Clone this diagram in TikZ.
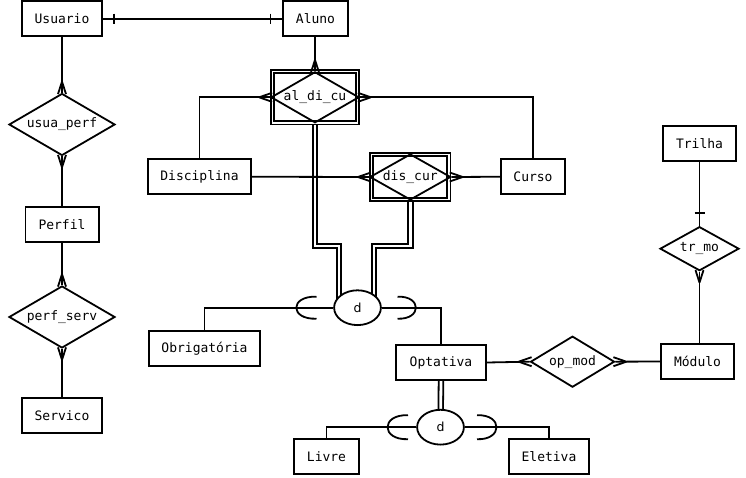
\documentclass[tikz,border=0pt]{standalone}
\usepackage{fontspec}
\setmonofont{DejaVu Sans Mono}
\newfontfamily\dfont{DejaVu Sans}
\usetikzlibrary{shapes.geometric,calc}
\pgfdeclarelayer{bg}
\pgfsetlayers{bg,main}
\newcommand\crowfoot[4]{\draw[conn] ($(#1)+(#2)$) -- ($(#1)+(#3)$) ($(#1)+(#2)$) -- ($(#1)+(#4)$);}
\begin{document}
\begin{tikzpicture}[x=1pt,y=-1pt,
  lw/.style={line width=1.8pt},
  ent/.style={draw, lw, rectangle, minimum height=35.3pt, inner sep=0pt, font=\ttfamily\fontsize{13}{15}\selectfont},
  rel/.style={draw, lw, diamond, inner sep=0pt, font=\ttfamily\fontsize{13}{15}\selectfont},
  dsk/.style={draw, lw, ellipse, fill=white, minimum width=46.8pt, minimum height=34.8pt, inner sep=0pt, font=\dfont\fontsize{12.5}{14}\selectfont},
  conn/.style={lw},
  dbl/.style={line width=1.8pt, double, double distance=2.8pt},
  wbox/.style={draw, line width=1.7pt, double, double distance=1.5pt, inner sep=0pt},
]
\useasboundingbox (0,0) rectangle (746,478);
% entities
\node[ent, minimum width=80.2pt] (usu) at (62,18.75) {Usuario};
\node[ent, minimum width=65.2pt] (alu) at (315.5,18.75) {Aluno};
\node[ent, minimum width=73.2pt] (per) at (62,224.5) {Perfil};
\node[ent, minimum width=80.2pt] (ser) at (62,415.5) {Servico};
\node[ent, minimum width=111.2pt] (obr) at (204.5,348.5) {Obrigatória};
\node[ent, minimum width=103.2pt] (dsc) at (199.5,176.75) {Disciplina};
\node[ent, minimum width=64.2pt] (cur) at (533,176.75) {Curso};
\node[ent, minimum width=90.2pt] (opt) at (441,362.5) {Optativa};
\node[ent, minimum width=73.2pt] (mod) at (697.5,361.5) {Módulo};
\node[ent, minimum width=73.2pt] (tri) at (699.5,143.5) {Trilha};
\node[ent, minimum width=65.2pt] (liv) at (326.5,456.5) {Livre};
\node[ent, minimum width=80.2pt] (ele) at (549,456.5) {Eletiva};
% relationships
\node[rel, aspect=1.71, minimum width=106pt, minimum height=62pt] (up) at (62,124.5) {usua\_perf};
\node[rel, aspect=1.71, minimum width=106pt, minimum height=62pt] (ps) at (62,317) {perf\_serv};
\node[wbox, minimum width=85.2pt, minimum height=51.2pt] (aldb) at (315,97.3) {};
\node[rel, aspect=1.72, minimum width=88pt, minimum height=51pt] (ald) at (315,97.3) {al\_di\_cu};
\node[wbox, minimum width=77.2pt, minimum height=45.2pt] (disb) at (410.3,177) {};
\node[rel, aspect=1.76, minimum width=81pt, minimum height=46pt] (dis) at (410.3,177) {dis\_cur};
\node[rel, aspect=1.65, minimum width=84pt, minimum height=51pt] (om) at (572.5,361.7) {op\_mod};
\node[rel, aspect=1.8, minimum width=79pt, minimum height=44pt] (trm) at (699.5,248.7) {tr\_mo};
% disjoint circles
\node[dsk] (d1) at (357.5,307.7) {d};
\node[dsk] (d2) at (440.5,427.2) {d};
\coordinate (b1) at (339,246);
\coordinate (b2) at (374,246);
\begin{pgfonlayer}{bg}
\fill[white] (0,0) rectangle (746,478);
\draw[dbl] (ald.south) |- (b1) -- (b1 |- d1.center);
\draw[dbl] (dis.south) |- (b2) -- (b2 |- d1.center);
\draw[dbl] (opt.south) -- (d2.center);
\draw[conn] (usu) -- (alu);
\draw[conn] (usu) -- (up);
\draw[conn] (up) -- (per);
\draw[conn] (per) -- (ps);
\draw[conn] (ps) -- (ser);
\draw[conn] (ald.north |- alu.south) -- (ald.north);
\draw[conn] (dsc.north) |- (ald.west);
\draw[conn] (cur.north) |- (ald.east);
\draw[conn] (dsc.east) -- (dis.west);
\draw[conn] (cur.west) -- (dis.east);
\draw[conn] (obr.north) |- (d1);
\draw[conn] (d1) -| (opt.north);
\draw[conn] (opt.east) -- (om.west);
\draw[conn] (mod.west) -- (om.east);
\draw[conn] (tri) -- (trm);
\draw[conn] (trm.south) -- (trm.south |- mod.north);
\draw[conn] (d2) -| (liv.north);
\draw[conn] (d2) -| (ele.north);
\end{pgfonlayer}
% one markers
\draw[conn] ($(usu.east)+(11,-5)$) -- ($(usu.east)+(11,5)$);
\draw[conn] ($(alu.west)+(-11.5,-5)$) -- ($(alu.west)+(-11.5,5)$);
\draw[conn] ($(trm.north)+(-5,-12.5)$) -- ($(trm.north)+(5,-12.5)$);
% many markers
\crowfoot{up.north}{0,-11}{-4,1.5}{4,1.5}
\crowfoot{up.south}{0,11}{-4,-1.5}{4,-1.5}
\crowfoot{ps.north}{0,-11}{-4,1.5}{4,1.5}
\crowfoot{ps.south}{0,11}{-4,-1.5}{4,-1.5}
\crowfoot{ald.north}{0,-11}{-4,1.5}{4,1.5}
\crowfoot{ald.west}{-11,0}{2,-4.5}{2,4.5}
\crowfoot{ald.east}{11,0}{-2,-4.5}{-2,4.5}
\crowfoot{dis.west}{-11,0}{2,-4.5}{2,4.5}
\crowfoot{dis.east}{11,0}{-2,-4.5}{-2,4.5}
\crowfoot{om.west}{-11,0}{2,-4.5}{2,4.5}
\crowfoot{om.east}{11,0}{-2,-4.5}{-2,4.5}
\crowfoot{trm.south}{0,11}{-4,-1.5}{4,-1.5}
% subset arcs
\draw[conn] ($(d1)+(-41,-11)$) .. controls ($(d1)+(-68,-12)$) and ($(d1)+(-68,12)$) .. ($(d1)+(-41,11)$);
\draw[conn] ($(d1)+(40,-11)$) .. controls ($(d1)+(64.5,-12)$) and ($(d1)+(64.5,12)$) .. ($(d1)+(40,11)$);
\draw[conn] ($(d2)+(-32.5,-12)$) .. controls ($(d2)+(-59.8,-13)$) and ($(d2)+(-59.8,13)$) .. ($(d2)+(-32.5,12)$);
\draw[conn] ($(d2)+(36.5,-12)$) .. controls ($(d2)+(62.5,-13)$) and ($(d2)+(62.5,13)$) .. ($(d2)+(36.5,12)$);
\end{tikzpicture}
\end{document}
